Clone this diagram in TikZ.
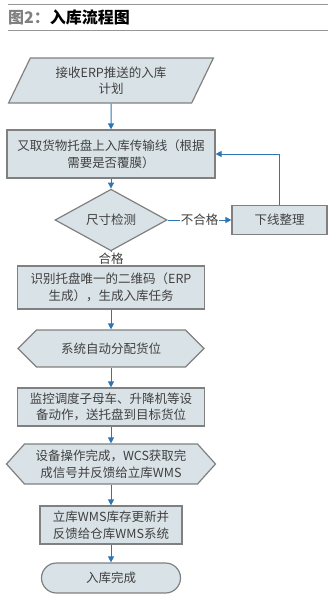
\documentclass[tikz,border=0pt]{standalone}
\usepackage{fontspec}
\setmainfont{Noto Sans CJK SC}
\usepackage{xcolor}
\usetikzlibrary{arrows.meta, shapes.geometric, shapes.symbols}
\definecolor{boxfill}{RGB}{217,226,230}
\definecolor{boxline}{RGB}{128,128,128}
\definecolor{flowblue}{RGB}{46,117,182}
\definecolor{textgray}{RGB}{64,64,64}
\definecolor{rulegray}{RGB}{150,150,150}

\begin{document}
\begin{tikzpicture}[x=1pt, y=-1pt,
  base/.style={draw=boxline, line width=1.2pt, fill=boxfill, text=textgray,
    font=\fontsize{12.5}{16.5}\selectfont, align=center, inner sep=0pt},
  flow/.style={flowblue, line width=1pt, -{Triangle[length=6pt, width=6pt]}},
  flowlabel/.style={fill=white, inner sep=1pt, text=textgray, font=\fontsize{12.5}{14}\selectfont}]
  \useasboundingbox (0,0) rectangle (334,600);

  % title
  \draw[rulegray, line width=1.5pt] (8,4.5) -- (328,4.5);
  \draw[rulegray, line width=1pt] (8,30.5) -- (328,30.5);
  \node[anchor=west, inner sep=0pt, font=\fontsize{16}{16}\selectfont\bfseries] (title) at (8,17)
    {\textcolor{gray}{图2：}入库流程图};

  % steps
  \node[base, trapezium, trapezium left angle=62, trapezium right angle=118, trapezium stretches,
    minimum width=205, minimum height=45] (plan) at (111,80.5) {接收ERP推送的入库\\计划};
  \node[base, minimum width=208, minimum height=48] (pick) at (111,154)
    {又取货物托盘上入库传输线（根据\\需要是否覆膜）};
  \node[base, diamond, minimum width=112, minimum height=36] (check) at (111,220) {尺寸检测};
  \node[base, minimum width=95, minimum height=29] (offline) at (279.5,220) {下线整理};
  \node[base, minimum width=187, minimum height=43] (scan) at (111,287.5)
    {识别托盘唯一的二维码（ERP\\生成），生成入库任务};
  \node[base, signal, signal to=west and east, signal pointer angle=90,
    minimum width=186, minimum height=37] (assign) at (111,348.5) {系统自动分配货位};
  \node[base, minimum width=187, minimum height=38] (move) at (111,407)
    {监控调度子母车、升降机等设\\备动作，送托盘到目标货位};
  \node[base, signal, signal to=west and east, signal pointer angle=96,
    minimum width=209, minimum height=40] (feedback) at (111,464)
    {设备操作完成，WCS获取完\\成信号并反馈给立库WMS};
  \node[base, minimum width=142, minimum height=38] (update) at (111,525)
    {立库WMS库存更新并\\反馈给仓库WMS系统};
  \node[base, rounded corners=15pt, minimum width=139, minimum height=30] (done) at (111,578) {入库完成};

  % connectors
  \draw[flow] (plan.south) -- (pick.north);
  \draw[flow] (pick.south) -- (check.north);
  \draw[flow] (check.east) -- node[flowlabel] {不合格} (offline.west);
  \draw[flow] (offline.north) |- (pick.east);
  \draw[flow] (check.south) -- node[flowlabel] {合格} (scan.north);
  \draw[flow] (scan.south) -- (assign.north);
  \draw[flow] (assign.south) -- (move.north);
  \draw[flow] (move.south) -- (feedback.north);
  \draw[flow] (feedback.south) -- (update.north);
  \draw[flow] (update.south) -- (done.north);
\end{tikzpicture}
\end{document}
